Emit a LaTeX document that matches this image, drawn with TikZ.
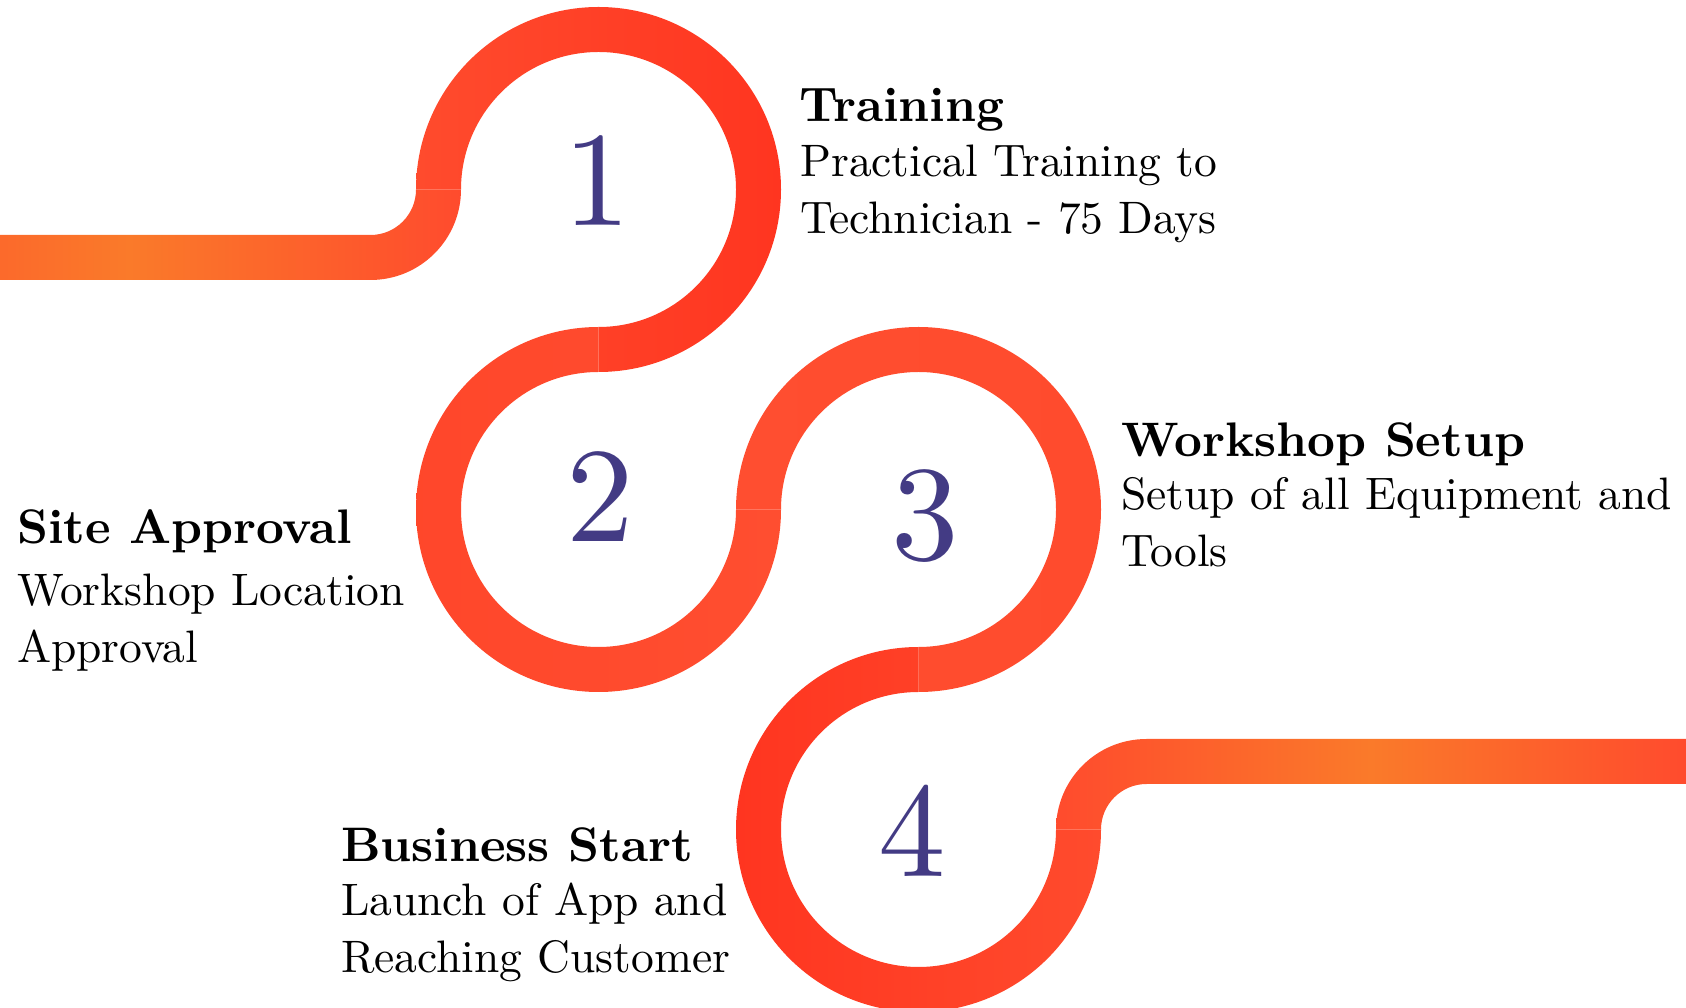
\documentclass[tikz,border=0pt]{standalone}
\usepackage{fontspec}
\setmainfont{lmroman10-regular.otf}[BoldFont=lmroman10-bold.otf]
\usetikzlibrary{calc}

\definecolor{glow}{HTML}{FA7A2A}
\definecolor{bandred}{HTML}{FF4B2D}
\definecolor{deepred}{HTML}{FF3520}
\definecolor{softred}{HTML}{FF4E30}
\definecolor{numblue}{HTML}{433B84}
\colorlet{glowmix}{glow!65!bandred}
\pgfdeclarehorizontalshading{leftglow}{100bp}{color(0bp)=(glowmix); color(25bp)=(glowmix); color(39bp)=(glow); color(75bp)=(bandred); color(100bp)=(bandred)}

\tikzset{
  stepnum/.style={anchor=base,inner sep=0pt,text=numblue,font=\fontsize{135}{135}\selectfont},
  steptitle/.style={anchor=base west,inner sep=0pt,font=\fontsize{48.5}{57}\selectfont\bfseries},
  stepdesc/.style={anchor=base west,inner sep=0pt,align=left,font=\fontsize{45.5}{57}\selectfont},
}

\begin{document}
\begin{tikzpicture}[x=1pt,y=1pt]
\useasboundingbox (0,0) rectangle (1686,1007);
\def\ro{182.5}
\def\ri{137.5}

% centres
\coordinate (c1) at (598.5,817.5);
\coordinate (c2) at (598.5,497.5);
\coordinate (c3) at (918.5,497.5);
\coordinate (c4) at (918.5,177.5);

% lead in
\shade[shading=leftglow] (0,772) -- (370.5,772) arc[start angle=-90,end angle=0,radius=45.5] -- ($(c1)+(180:\ri)$) arc[start angle=0,end angle=-90,radius=90.5] -- (0,727) -- cycle;

% rings
\shade[left color=bandred,right color=deepred] ($(c1)+(180:\ro)$) arc[start angle=180,end angle=-90,radius=\ro] -- ($(c1)+(-90:\ri)$) arc[start angle=-90,end angle=180,radius=\ri] -- cycle;
\shade[left color=bandred!80!deepred,right color=softred] ($(c2)+(90:\ro)$) arc[start angle=90,end angle=360,radius=\ro] -- ($(c2)+(0:\ri)$) arc[start angle=360,end angle=90,radius=\ri] -- cycle;
\shade[left color=softred,right color=bandred] ($(c3)+(180:\ro)$) arc[start angle=180,end angle=-90,radius=\ro] -- ($(c3)+(-90:\ri)$) arc[start angle=-90,end angle=180,radius=\ri] -- cycle;
\shade[left color=deepred,right color=bandred] ($(c4)+(90:\ro)$) arc[start angle=90,end angle=360,radius=\ro] -- ($(c4)+(0:\ri)$) arc[start angle=360,end angle=90,radius=\ri] -- cycle;

% lead out
\shade[left color=bandred,right color=bandred,middle color=glow] ($(c4)+(0:\ri)$) arc[start angle=180,end angle=90,radius=90.5] -- (1686,268) -- (1686,223) -- (1146.5,223) arc[start angle=90,end angle=180,radius=45.5] -- cycle;

% numbers
\node[stepnum] (n1) at (597,781) {1};
\node[stepnum] (n2) at (600.5,465.3) {2};
\node[stepnum] (n3) at (925,447.7) {3};
\node[stepnum] (n4) at (912,130.3) {4};

% labels (desc nodes sit on their last line)
\node[steptitle] (t1) at (799,885.3) {Training};
\node[stepdesc] (d1) at (800,773.7) {Practical Training to\\Technician - 75 Days};
\node[steptitle] (t2) at (17,463) {Site Approval};
\node[stepdesc] (d2) at (17,344) {Workshop Location\\Approval};
\node[steptitle] (t3) at (1121,550.3) {Workshop Setup};
\node[stepdesc] (d3) at (1121,440.3) {Setup of all Equipment and\\Tools};
\node[steptitle] (t4) at (341,145.3) {Business Start};
\node[stepdesc] (d4) at (341,35) {Launch of App and\\Reaching Customer};

\end{tikzpicture}
\end{document}
